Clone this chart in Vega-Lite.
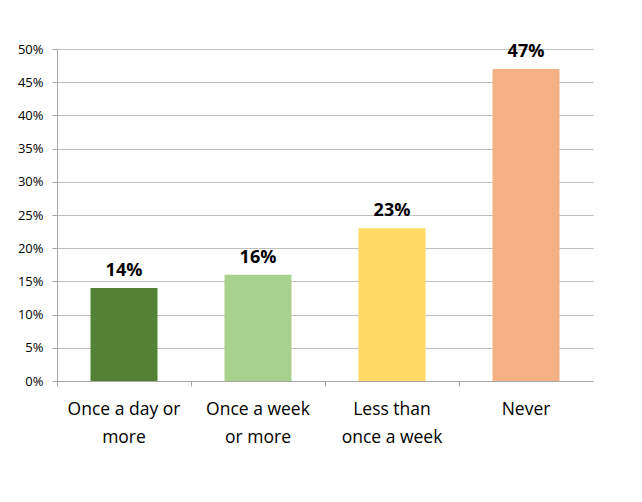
{
  "$schema": "https://vega.github.io/schema/vega-lite/v6.json",
  "width": 536,
  "height": 332,
  "autosize": "none",
  "padding": {"left": 57, "top": 49, "right": 49, "bottom": 121},
  "background": "white",
  "config": {
    "view": {"stroke": null},
    "font": "Open Sans"
  },
  "data": {
    "values": [
      {"category": "Once a day or more", "value": 0.14, "color": "#548235"},
      {"category": "Once a week or more", "value": 0.16, "color": "#A9D18E"},
      {"category": "Less than once a week", "value": 0.23, "color": "#FFD966"},
      {"category": "Never", "value": 0.47, "color": "#F4B183"}
    ]
  },
  "encoding": {
    "x": {
      "field": "category",
      "type": "nominal",
      "sort": null,
      "scale": {"paddingInner": 0, "paddingOuter": 0},
      "axis": {
        "title": null,
        "labelAngle": 0,
        "bandPosition": 0,
        "domainColor": "#A6A6A6",
        "tickColor": "#A6A6A6",
        "tickSize": 5,
        "labelFontSize": 17.5,
        "labelColor": "#000000",
        "labelPadding": 14,
        "labelLineHeight": 28,
        "labelBaseline": "top",
        "labelExpr": "datum.value == 'Once a day or more' ? ['Once a day or', 'more'] : datum.value == 'Once a week or more' ? ['Once a week', 'or more'] : datum.value == 'Less than once a week' ? ['Less than', 'once a week'] : datum.value"
      }
    },
    "y": {
      "field": "value",
      "type": "quantitative",
      "scale": {"domain": [0, 0.5], "nice": false},
      "axis": {
        "title": null,
        "format": ".0%",
        "values": [0, 0.05, 0.1, 0.15, 0.2, 0.25, 0.3, 0.35, 0.4, 0.45, 0.5],
        "domainColor": "#A6A6A6",
        "tickColor": "#A6A6A6",
        "gridColor": "#BFBFBF",
        "tickSize": 5,
        "labelFontSize": 13,
        "labelColor": "#000000",
        "labelPadding": 9
      }
    }
  },
  "layer": [
    {
      "mark": {"type": "bar", "width": {"band": 0.5}},
      "encoding": {
        "color": {"field": "color", "type": "nominal", "scale": null}
      }
    },
    {
      "mark": {"type": "text", "baseline": "bottom", "dy": -8, "fontSize": 18, "fontWeight": "bold", "color": "#000000"},
      "encoding": {
        "text": {"field": "value", "type": "quantitative", "format": ".0%"}
      }
    }
  ]
}
